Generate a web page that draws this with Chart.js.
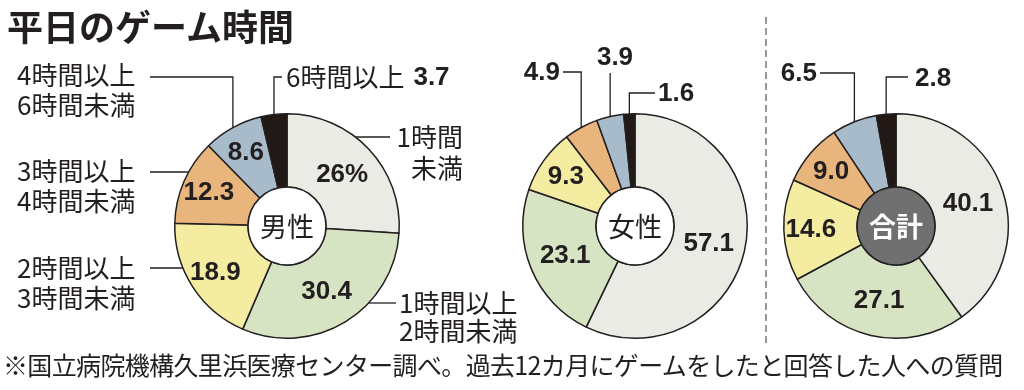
<!DOCTYPE html>
<html lang="ja">
<head>
<meta charset="utf-8">
<script src="https://cdn.jsdelivr.net/npm/chart.js@4.4.0/dist/chart.umd.min.js"></script>
<style>
  html, body { margin: 0; padding: 0; background: #fff; }
  #wrap { position: relative; width: 1024px; height: 390px; overflow: hidden; background: #fff; }
  #wrap canvas, #wrap svg { position: absolute; left: 0; top: 0; }
  .title { position: absolute; left: 7px; top: 3px; font: bold 36px "Noto Sans CJK JP"; line-height: 44px; color: #231f20; white-space: nowrap; }
  .note { position: absolute; left: 3px; top: 349px; font: 25px "Noto Sans CJK JP"; letter-spacing: -0.65px; line-height: 30px; color: #231f20; white-space: nowrap; }
</style>
</head>
<body>
<div id="wrap">
  <svg width="1024" height="390"><line x1="766" y1="17" x2="766" y2="345" stroke="#555" stroke-width="1.2" stroke-dasharray="7 4"/></svg>
  <canvas id="male" width="1024" height="390"></canvas>
  <canvas id="female" width="1024" height="390"></canvas>
  <canvas id="total" width="1024" height="390"></canvas>
  <div class="title">平日のゲーム時間</div>
  <div class="note">※国立病院機構久里浜医療センター調べ。過去12カ月にゲームをしたと回答した人への質問</div>
</div>
<script>
// 区分（時計回り、真上から）
const categories = ['1時間未満', '1時間以上2時間未満', '2時間以上3時間未満', '3時間以上4時間未満', '4時間以上6時間未満', '6時間以上'];
const maleValues = [26, 30.4, 18.9, 12.3, 8.6, 3.7];
const femaleValues = [57.1, 23.1, 9.3, 4.9, 3.9, 1.6];
const totalValues = [40.1, 27.1, 14.6, 9.0, 6.5, 2.8];
const groupNames = ['男性', '女性', '合計'];

const sliceColors = ['#ebebe6', '#d6e4c3', '#f3eca1', '#e8b57d', '#a8bbca', '#221816'];
const ink = '#231f20';
const JP = '"Noto Sans CJK JP"';
const NUM = '"Liberation Sans", Arial, sans-serif';

// '4時間以上6時間未満' -> ['4時間以上', '6時間未満'], '1時間未満' -> ['1時間', '未満']
function splitLabel(s) {
  const i = s.indexOf('以上');
  if (i >= 0 && i + 2 < s.length) return [s.slice(0, i + 2), s.slice(i + 2)];
  if (s.endsWith('未満')) return [s.slice(0, -2), '未満'];
  return [s];
}

const calloutPlugin = {
  id: 'callouts',
  afterDatasetsDraw(chart, args, opts) {
    const ctx = chart.ctx;
    const meta = chart.getDatasetMeta(0);
    const values = chart.data.datasets[0].data;
    const p0 = meta.data[0].getProps(['x', 'y', 'innerRadius', 'outerRadius'], true);
    const cx = p0.x, cy = p0.y, R = p0.outerRadius, r0 = p0.innerRadius;
    const fmt = (v, i) => (opts.pctFirst && i === 0) ? v.toFixed(0) + '%' : v.toFixed(1);

    ctx.save();
    ctx.textBaseline = 'middle';
    ctx.fillStyle = ink;

    // 扇形の中の数値
    ctx.font = 'bold 26px ' + NUM;
    ctx.textAlign = 'center';
    meta.data.forEach((arc, i) => {
      const v = values[i];
      if (v < 8) return;
      const p = arc.getProps(['startAngle', 'endAngle', 'innerRadius', 'outerRadius'], true);
      const mid = (p.startAngle + p.endAngle) / 2;
      const k = v < 20 ? 0.63 : 0.5;
      const rr = p.innerRadius + (p.outerRadius - p.innerRadius) * k;
      ctx.fillText(fmt(v, i), cx + Math.cos(mid) * rr, cy + Math.sin(mid) * rr + 1);
    });

    // 引き出し線とラベル
    ctx.strokeStyle = ink;
    ctx.lineWidth = 1.3;
    (opts.items || []).forEach(it => {
      const arc = meta.data[it.index];
      const p = arc.getProps(['startAngle', 'endAngle'], true);
      const mid = (p.startAngle + p.endAngle) / 2;
      const ax = cx + Math.cos(mid) * R, ay = cy + Math.sin(mid) * R;
      const ln = it.link;
      ctx.beginPath();
      if (ln.type === 'elbow') {
        ctx.moveTo(ax, ay); ctx.lineTo(ax, ln.y); ctx.lineTo(ln.x, ln.y);
      } else if (ln.type === 'drop') {
        ctx.moveTo(ax, ay); ctx.lineTo(ax, ln.y);
      } else {
        const side = ln.x < cx ? -1 : 1;
        const ex = cx + side * Math.sqrt(Math.max(R * R - (ln.y - cy) * (ln.y - cy), 0));
        ctx.moveTo(ex, ln.y); ctx.lineTo(ln.x, ln.y);
      }
      ctx.stroke();

      const lines = it.text ? splitLabel(categories[it.index]) : [];
      const lh = it.lh || 30;
      ctx.textAlign = it.align || 'left';
      ctx.font = '26px ' + JP;
      lines.forEach((t, k) => ctx.fillText(t, it.x, it.y + k * lh));
      if (it.value) {
        ctx.font = 'bold 26px ' + NUM;
        if (lines.length) {
          ctx.font = '26px ' + JP;
          const w = ctx.measureText(lines[0]).width;
          ctx.font = 'bold 26px ' + NUM;
          ctx.textAlign = 'left';
          ctx.fillText(fmt(values[it.index], it.index), it.x + w + 9, it.y + 1);
        } else {
          ctx.fillText(fmt(values[it.index], it.index), it.x, it.y + 1);
        }
      }
    });

    // 中央の円
    ctx.beginPath();
    ctx.arc(cx, cy, r0, 0, Math.PI * 2);
    ctx.fillStyle = opts.centerFill;
    ctx.fill();
    ctx.lineWidth = 1.5;
    ctx.stroke();
    ctx.fillStyle = opts.centerColor;
    ctx.textAlign = 'center';
    ctx.font = (opts.centerBold ? 'bold ' : '') + '27px ' + JP;
    ctx.fillText(opts.centerText, cx, cy + 1);
    ctx.restore();
  }
};

function makeChart(id, values, cx, cy, opts) {
  const R = 113, W = 1024, H = 390;
  return new Chart(document.getElementById(id), {
    type: 'doughnut',
    data: {
      labels: categories,
      datasets: [{ data: values, backgroundColor: sliceColors, borderColor: ink, borderWidth: 1.5 }]
    },
    options: {
      responsive: false,
      animation: false,
      events: [],
      cutout: 39,
      layout: { padding: { left: cx - R, right: W - cx - R, top: cy - R, bottom: H - cy - R } },
      plugins: { legend: { display: false }, tooltip: { enabled: false }, callouts: opts }
    },
    plugins: [calloutPlugin]
  });
}

makeChart('male', maleValues, 287, 226, {
  pctFirst: true,
  centerText: groupNames[0], centerFill: '#fff', centerColor: ink,
  items: [
    { index: 4, text: true, x: 17, y: 75, link: { type: 'elbow', y: 77, x: 150 } },
    { index: 5, text: true, value: true, x: 286, y: 77, link: { type: 'elbow', y: 77, x: 282 } },
    { index: 3, text: true, x: 17, y: 171, link: { type: 'flat', y: 172, x: 150 } },
    { index: 2, text: true, x: 17, y: 268, link: { type: 'flat', y: 268, x: 150 } },
    { index: 0, text: true, align: 'right', x: 463, y: 137, lh: 31, link: { type: 'flat', y: 137, x: 390 } },
    { index: 1, text: true, x: 399, y: 303, lh: 28, link: { type: 'flat', y: 303, x: 396 } }
  ]
});

makeChart('female', femaleValues, 635, 226, {
  centerText: groupNames[1], centerFill: '#fff', centerColor: ink,
  items: [
    { index: 3, value: true, align: 'right', x: 560, y: 72, link: { type: 'elbow', y: 72, x: 563 } },
    { index: 4, value: true, align: 'center', x: 615, y: 57, link: { type: 'drop', y: 73 } },
    { index: 5, value: true, align: 'left', x: 658, y: 93, link: { type: 'elbow', y: 93, x: 655 } }
  ]
});

makeChart('total', totalValues, 896, 226, {
  centerText: groupNames[2], centerFill: '#707070', centerColor: '#fff', centerBold: true,
  items: [
    { index: 4, value: true, align: 'right', x: 817, y: 73, link: { type: 'elbow', y: 73, x: 820 } },
    { index: 5, value: true, align: 'left', x: 915, y: 78, link: { type: 'elbow', y: 77, x: 908 } }
  ]
});
</script>
</body>
</html>
